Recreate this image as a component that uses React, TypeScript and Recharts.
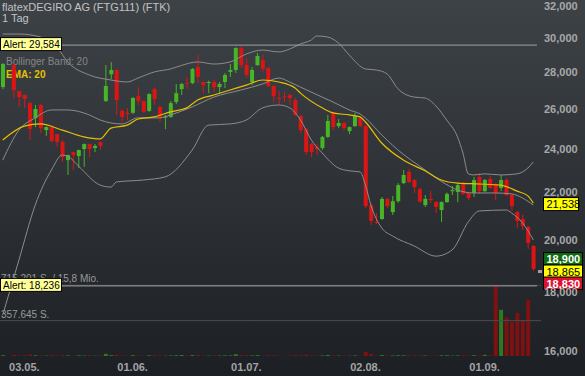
import { Bar, Cell, ComposedChart, Line, ReferenceLine, XAxis, YAxis } from "recharts";

const FONT = '"Liberation Sans", Arial, Helvetica, sans-serif';
const GREEN = "#46b526";
const RED = "#dd1414";
const VOL_GREEN = "#2f7a1f";
const VOL_RED = "#7e1212";
const BAND = "#8c8c8c";
const EMA_COLOR = "#e6c000";

const TITLE = "flatexDEGIRO AG (FTG111) (FTK)";
const PERIOD = "1 Tag";

// one slot per trading day with trades (slot 1 had no trade)
const opens = [
  27.19, null, 28.42, 26.97, 26.76, 26.33, 25.55, 26.23, 24.94, 25.09,
  24.74, 24.35, 23.48, 23.86, 23.67, 24.01, 24.25, 24.06, 24.35, 26.44,
  27.9, 28.14, 25.92, 25.82, 25.82, 26.7, 26.44, 25.92, 27.08, 26.13,
  25.58, 25.61, 26.39, 27.08, 27.42, 27.41, 28.31, 27.47, 27.41, 27.47,
  27.19, 27.47, 28.03, 28.14, 29.41, 28.42, 27.47, 28.42, 28.71, 28.25,
  27.25, 26.6, 26.7, 26.76, 26.49, 25.66, 24.99, 24.25, 24.11, 24.06,
  24.6, 25.82, 25.14, 25.3, 24.89, 25.14, 25.56, 25.14, 21.45, 20.74,
  20.86, 21.72, 21.15, 21.62, 22.42, 22.93, 22.56, 22.15, 21.45, 21.72,
  21.58, 21.24, 21.58, 22.06, 22.02, 22.42, 21.98, 21.98, 22.7, 22.06,
  22.61, 22.38, 22.2, 22.56, 21.89, 21.16, 20.86, 20.53, 19.76,
];
const highs = [
  28.54, null, 28.48, 27.0, 26.8, 26.39, 26.23, 26.28, 25.12, 25.19,
  24.76, 24.45, 23.74, 23.88, 23.98, 24.28, 24.27, 24.25, 24.37, 28.42,
  28.59, 28.2, 26.02, 26.07, 26.65, 27.19, 26.47, 26.86, 27.19, 26.18,
  25.71, 26.44, 27.36, 27.42, 27.75, 28.25, 29.0, 27.5, 27.55, 27.58,
  27.47, 27.97, 28.48, 29.45, 29.53, 28.82, 28.31, 29.12, 29.0, 28.31,
  27.3, 26.97, 26.92, 26.81, 26.6, 25.71, 25.04, 24.3, 24.25, 24.65,
  25.71, 25.87, 25.5, 25.35, 25.12, 25.82, 25.61, 25.19, 21.5, 21.11,
  21.8, 21.76, 21.85, 22.42, 23.02, 23.07, 22.6, 22.2, 21.89, 22.06,
  21.62, 21.62, 22.0, 22.29, 22.42, 22.47, 22.0, 22.7, 22.88, 22.61,
  22.75, 22.42, 22.79, 22.65, 21.94, 21.2, 21.03, 20.57, 19.8,
];
const lows = [
  27.08, null, 26.6, 26.13, 26.08, 24.45, 25.09, 24.79, 24.65, 24.35,
  24.11, 23.39, 22.79, 23.02, 23.11, 23.16, 23.62, 23.86, 23.96, 26.39,
  27.63, 25.71, 25.35, 25.45, 25.76, 26.23, 25.82, 25.87, 26.23, 25.35,
  24.99, 25.56, 26.28, 26.76, 27.08, 27.36, 27.41, 26.86, 26.86, 26.92,
  26.86, 27.14, 27.75, 27.97, 28.25, 27.69, 27.3, 28.37, 28.03, 27.19,
  26.39, 26.23, 26.39, 26.23, 25.66, 24.79, 23.72, 23.62, 23.72, 23.96,
  24.55, 24.94, 25.04, 24.94, 24.74, 25.09, 25.09, 21.32, 20.61, 20.65,
  20.82, 21.32, 21.03, 21.55, 22.38, 22.42, 21.98, 21.55, 21.37, 21.55,
  21.11, 20.74, 21.55, 21.89, 21.58, 21.89, 21.67, 21.8, 21.94, 22.02,
  22.15, 21.67, 22.06, 21.85, 21.2, 20.49, 20.4, 19.64, 18.8,
];
const closes = [
  28.48, null, 27.03, 26.65, 26.55, 24.99, 26.02, 25.04, 25.09, 24.4,
  24.35, 23.62, 23.72, 23.72, 23.96, 24.25, 24.01, 24.16, 24.16, 27.25,
  28.14, 26.49, 25.61, 25.76, 26.6, 26.44, 25.87, 26.81, 26.54, 25.56,
  25.64, 26.33, 26.86, 27.36, 27.36, 28.2, 27.75, 27.3, 27.47, 27.19,
  27.36, 27.86, 28.14, 29.41, 28.42, 27.86, 28.14, 28.94, 28.2, 27.25,
  26.7, 26.54, 26.65, 26.6, 25.71, 24.94, 23.86, 23.86, 24.01, 24.6,
  25.4, 25.09, 25.3, 25.04, 25.09, 25.66, 25.14, 21.41, 20.78, 20.7,
  21.72, 21.41, 21.62, 22.33, 22.79, 22.47, 22.24, 21.6, 21.72, 21.67,
  21.37, 21.58, 21.94, 22.11, 22.33, 21.94, 21.76, 22.56, 22.06, 22.56,
  22.2, 21.98, 22.56, 21.89, 21.41, 20.78, 20.57, 19.88, 18.865,
];
const volumes = [
  8000, null, 12000, 5000, 9000, 15000, 7000, 6000, 4000, 8000,
  5000, 11000, 6000, 4000, 7000, 5000, 9000, 3000, 6000, 22000,
  9000, 14000, 5000, 3000, 8000, 6000, 4000, 7000, 9000, 5000,
  3000, 6000, 8000, 10000, 4000, 9000, 12000, 5000, 4000, 6000,
  5000, 7000, 6000, 18000, 11000, 8000, 6000, 9000, 5000, 8000,
  7000, 4000, 3000, 5000, 9000, 8000, 12000, 7000, 4000, 6000,
  10000, 8000, 4000, 5000, 3000, 6000, 5000, 42000, 22000, 6000,
  9000, 5000, 6000, 8000, 7000, 9000, 6000, 7000, 5000, 4000,
  6000, 7000, 8000, 4000, 6000, 9000, 5000, 8000, 7000, 12000,
  9000, 715201, 467000, 391000, 347000, 436000, 365000, 569000, 0,
];

const tickSlots = [4, 24, 45, 67, 89];
const tickLabels = ["03.05.", "01.06.", "01.07.", "02.08.", "01.09."];
const priceTicks = [16, 18, 20, 22, 24, 26, 28, 30, 32];

// indicator lines as [slot, value]
const upperBand = [
  [0, 30.25], [3, 30.25], [7, 30.07], [10, 29.47], [12, 28.6], [16, 27.86], [20, 27.58],
  [23, 27.47], [25, 27.69], [28, 28.03], [31, 28.2], [33, 28.4], [36, 28.6], [39, 28.48],
  [42, 28.6], [45, 29.06], [48, 29.29], [51, 29.18], [53, 29.35], [55, 29.65], [57, 29.89],
  [58, 30.13], [60, 30.07], [62, 29.71], [64, 29.0], [67, 28.2], [69, 28.14], [71, 27.92],
  [73, 27.1], [76, 26.65], [78, 26.6], [80, 26.18], [82, 25.45], [84, 24.6], [85, 23.82],
  [86, 22.84], [87, 22.79], [89, 22.84], [92, 22.79], [95, 22.84], [97, 23.11], [98, 23.39],
];
const middleBand = [
  [0, 23.48], [3, 24.94], [6, 25.56], [9, 25.97], [12, 25.97], [16, 25.71], [18, 25.45],
  [22, 25.25], [25, 25.56], [29, 25.56], [31, 25.71], [35, 26.13], [39, 26.65], [44, 27.03],
  [48, 27.36], [51, 27.69], [53, 27.47], [55, 27.19], [59, 26.65], [61, 26.39], [64, 25.97],
  [66, 25.76], [67, 25.55], [70, 24.7], [74, 23.75], [77, 23.2], [81, 22.5], [84, 22.11],
  [87, 21.98], [91, 21.98], [94, 21.94], [96, 21.76], [98, 21.45],
];
const lowerBand = [
  [0, 17.2], [3, 19.21], [6, 21.45], [9, 23.02], [11, 23.72], [12, 23.67], [14, 23.2],
  [18, 22.33], [20, 22.24], [21, 22.47], [26, 22.56], [30, 22.7], [35, 23.96], [38, 25.19],
  [42, 25.25], [45, 25.45], [48, 26.08], [51, 26.23], [53, 26.08], [55, 25.45], [57, 24.45],
  [59, 23.82], [62, 23.11], [64, 22.98], [66, 22.93], [67, 22.33], [68, 21.45], [70, 20.49],
  [72, 20.16], [76, 19.76], [80, 19.36], [83, 19.6], [86, 20.74], [88, 21.2], [93, 21.24],
  [94, 21.11], [96, 20.7], [98, 20.0],
];
const ema20 = [
  [0, 24.45], [4, 25.14], [7, 25.25], [11, 24.94], [15, 24.6], [18, 24.5], [20, 25.04],
  [23, 25.19], [25, 25.5], [28, 25.61], [31, 25.87], [34, 26.08], [36, 26.49], [39, 26.76],
  [42, 27.03], [45, 27.3], [48, 27.58], [51, 27.47], [54, 27.14], [55, 26.86], [59, 26.08],
  [61, 25.82], [64, 25.71], [66, 25.61], [67, 25.35], [70, 24.3], [74, 23.48], [78, 22.98],
  [81, 22.56], [84, 22.42], [88, 22.38], [92, 22.33], [95, 22.06], [97, 21.85], [98, 21.538],
];

const alertHigh = 29.584;
const alertLow = 18.236;
const lastEma = 21.538;
const quoteBid = 18.9;
const quoteLast = 18.865;
const quoteAsk = 18.83;
const volTop = 715201;
const volHalf = 357645;

const fmt = (v: number) => v.toFixed(3).replace(".", ",");

const rows: Record<string, any>[] = closes.map((close, slot) => {
  const row: Record<string, any> = { slot, vol: volumes[slot] };
  if (close !== null) {
    row.open = opens[slot];
    row.high = highs[slot];
    row.low = lows[slot];
    row.close = close;
    row.range = [lows[slot], highs[slot]];
  }
  return row;
});
const overlays: Record<string, number[][]> = { upper: upperBand, middle: middleBand, lower: lowerBand, ema: ema20 };
for (const [key, points] of Object.entries(overlays)) {
  for (const [slot, value] of points) rows[slot][key] = value;
}

function Candle(props: any) {
  const { x, y, width, height, payload } = props;
  if (!payload || payload.close == null || x == null || y == null) return null;
  const top = Math.min(y, y + height);
  const h = Math.abs(height);
  const lh = Math.log(payload.high);
  const ll = Math.log(payload.low);
  const toY = (v: number) => (lh > ll ? top + (h * (lh - Math.log(v))) / (lh - ll) : top);
  const cx = x + width / 2;
  const color = payload.close >= payload.open ? GREEN : RED;
  const bodyTop = toY(Math.max(payload.open, payload.close));
  const bodyBottom = toY(Math.min(payload.open, payload.close));
  return (
    <g>
      <line x1={cx} x2={cx} y1={top} y2={top + h} stroke={color} strokeWidth={1} />
      <rect x={cx - 2} y={bodyTop} width={4} height={Math.max(1, bodyBottom - bodyTop)} fill={color} />
    </g>
  );
}

// date labels sit in the 20px strip under the plot
function DateTick(props: any) {
  const { x, payload } = props;
  return (
    <text x={x} y={371} textAnchor="middle" fontSize={11} fontWeight="bold" fill="#a4a4a4" fontFamily={FONT}>
      {tickLabels[tickSlots.indexOf(payload.value)] ?? ""}
    </text>
  );
}

// reference line end points; a right-hand axis may hand them over right to left
function ends(p: any) {
  return { left: Math.min(p.x1, p.x2), right: Math.max(p.x1, p.x2), y: p.y1 };
}

function AlertLine(props: any) {
  const { left, right, y } = ends(props);
  return (
    <g>
      <line x1={left} x2={right + 1} y1={y} y2={y} stroke="#a2a2a2" strokeWidth={1} />
      <rect x={0.5} y={y - 7.5} width={61} height={13} fill="#ffff99" stroke="#000" strokeWidth={1} />
      <text x={3} y={y + 3} fontSize={10} fill="#000" fontFamily={FONT}>
        {props.text}
      </text>
    </g>
  );
}

function VolumeLine(props: any) {
  const { left, right, y } = ends(props);
  return (
    <g>
      <line x1={left} x2={right + 5} y1={y} y2={y} stroke="#484c51" strokeWidth={1} />
      <text x={1} y={y - 3} fontSize={10} fill="#9a9a9a" fontFamily={FONT}>
        {props.text}
      </text>
    </g>
  );
}

function EmaTag(props: any) {
  const { right, y } = ends(props);
  const left = right + 7.5;
  return (
    <g>
      <rect x={left} y={y - 5.5} width={35} height={13} fill="#ffff00" stroke="#000" strokeWidth={1} />
      <text x={left + 3} y={y + 5} fontSize={11} fill="#000" fontFamily={FONT}>
        {fmt(lastEma)}
      </text>
    </g>
  );
}

function QuoteTags(props: any) {
  const { right, y } = ends(props);
  const left = right + 7.5;
  const tags = [
    { value: quoteBid, dy: -16.5, fill: "#0f6a10", color: "#fff", bold: true },
    { value: quoteLast, dy: -4, fill: "#ffff00", color: "#000", bold: false },
    { value: quoteAsk, dy: 8, fill: "#dc1030", color: "#fff", bold: true },
  ];
  return (
    <g>
      <rect x={right + 2} y={y + 1} width={4} height={3} fill="#a0a0a0" />
      {tags.map((t) => (
        <g key={t.value}>
          <rect x={left} y={y + t.dy} width={39} height={12.5} fill={t.fill} stroke="#000" strokeWidth={1} />
          <text
            x={left + 3}
            y={y + t.dy + 10.5}
            fontSize={11}
            fontWeight={t.bold ? "bold" : "normal"}
            fill={t.color}
            fontFamily={FONT}
          >
            {fmt(t.value)}
          </text>
        </g>
      ))}
    </g>
  );
}

export default function App() {
  return (
    <div
      style={{
        position: "absolute",
        left: 0,
        top: 0,
        width: 585,
        height: 376,
        overflow: "hidden",
        fontFamily: FONT,
        background: "linear-gradient(180deg, #3d4247 0%, #2e3236 50%, #1c1f23 100%)",
      }}
    >
      <div style={{ position: "absolute", left: 2, top: 1, fontSize: 11, color: "#c2c2c2" }}>{TITLE}</div>
      <div style={{ position: "absolute", left: 2, top: 12, fontSize: 11, color: "#c2c2c2" }}>{PERIOD}</div>
      <div style={{ position: "absolute", left: 6, top: 56, fontSize: 10, color: "#858585" }}>Bollinger Band: 20</div>
      <div style={{ position: "absolute", left: 6, top: 69, fontSize: 10, color: EMA_COLOR, fontWeight: "bold" }}>EMA: 20</div>
      <div style={{ position: "absolute", left: 0, top: 0 }}>
        <ComposedChart width={585} height={376} data={rows} margin={{ top: 0, right: 0, bottom: 0, left: 0 }}>
          <XAxis
            xAxisId="x"
            dataKey="slot"
            height={20}
            ticks={tickSlots}
            interval={0}
            axisLine={false}
            tickLine={false}
            tick={(p: any) => <DateTick {...p} />}
          />
          <XAxis xAxisId="v" dataKey="slot" hide />
          <YAxis
            yAxisId="p"
            orientation="right"
            width={49}
            scale="log"
            domain={[15.84, 32.39]}
            allowDataOverflow
            ticks={priceTicks}
            axisLine={false}
            tickLine={false}
            tickFormatter={(v: number) => fmt(v)}
            tick={{ fill: "#a8a8a8", fontSize: 11, fontWeight: "bold", fontFamily: FONT }}
          />
          <YAxis yAxisId="vol" hide domain={[0, 3600000]} allowDataOverflow />

          <ReferenceLine
            xAxisId="v"
            yAxisId="vol"
            y={volTop}
            shape={(p: any) => <VolumeLine {...p} text="715.201 S. / 15,8 Mio." />}
          />
          <ReferenceLine xAxisId="v" yAxisId="vol" y={volHalf} shape={(p: any) => <VolumeLine {...p} text="357.645 S." />} />

          <Bar xAxisId="v" yAxisId="vol" dataKey="vol" barSize={4} isAnimationActive={false}>
            {rows.map((r) => (
              <Cell key={r.slot} fill={r.close >= r.open ? VOL_GREEN : VOL_RED} />
            ))}
          </Bar>
          <Bar xAxisId="x" yAxisId="p" dataKey="range" barSize={4} isAnimationActive={false} shape={(p: any) => <Candle {...p} />} />

          <Line xAxisId="x" yAxisId="p" dataKey="upper" type="monotone" stroke={BAND} strokeWidth={1} dot={false} activeDot={false} connectNulls isAnimationActive={false} />
          <Line xAxisId="x" yAxisId="p" dataKey="middle" type="monotone" stroke={BAND} strokeWidth={1} dot={false} activeDot={false} connectNulls isAnimationActive={false} />
          <Line xAxisId="x" yAxisId="p" dataKey="lower" type="monotone" stroke={BAND} strokeWidth={1} dot={false} activeDot={false} connectNulls isAnimationActive={false} />
          <Line xAxisId="x" yAxisId="p" dataKey="ema" type="monotone" stroke={EMA_COLOR} strokeWidth={1.2} dot={false} activeDot={false} connectNulls isAnimationActive={false} />

          <ReferenceLine xAxisId="x" yAxisId="p" y={alertHigh} shape={(p: any) => <AlertLine {...p} text={`Alert: ${fmt(alertHigh)}`} />} />
          <ReferenceLine xAxisId="x" yAxisId="p" y={alertLow} shape={(p: any) => <AlertLine {...p} text={`Alert: ${fmt(alertLow)}`} />} />
          <ReferenceLine xAxisId="x" yAxisId="p" y={lastEma} shape={(p: any) => <EmaTag {...p} />} />
          <ReferenceLine xAxisId="x" yAxisId="p" y={quoteLast} shape={(p: any) => <QuoteTags {...p} />} />
        </ComposedChart>
      </div>
    </div>
  );
}
